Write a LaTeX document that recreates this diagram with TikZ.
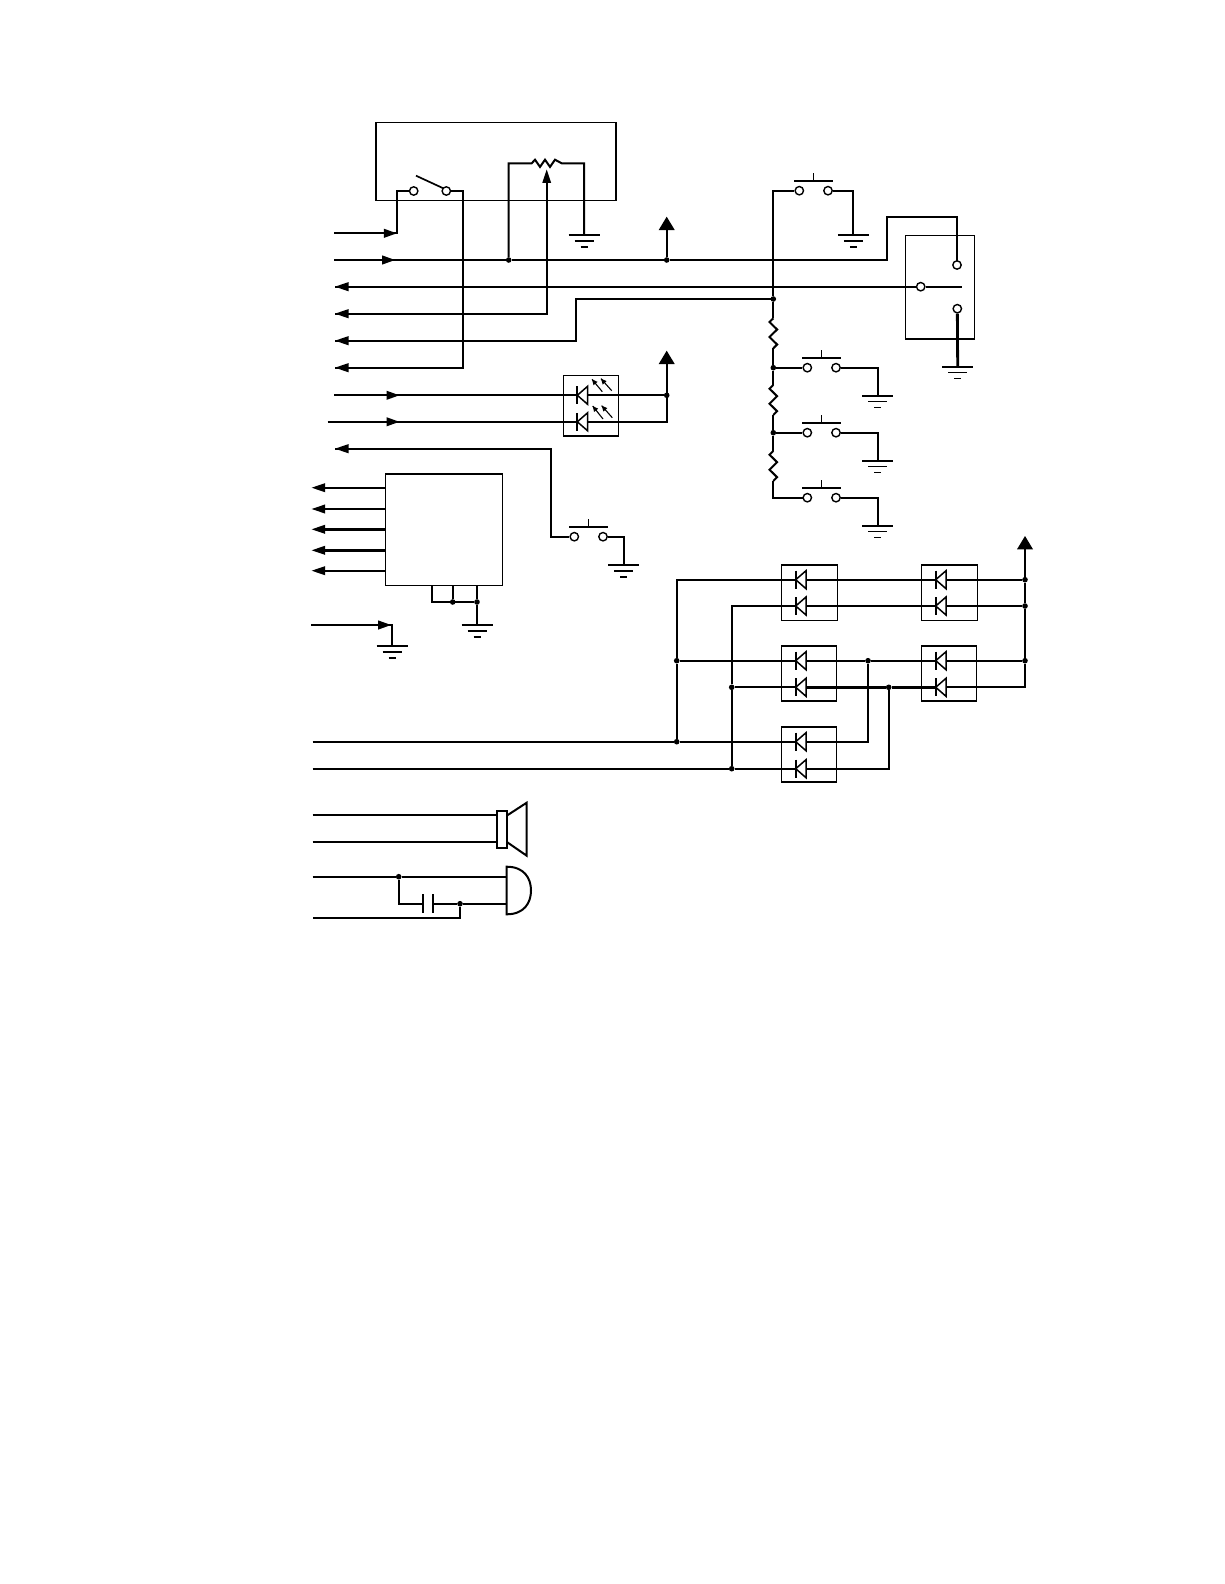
\documentclass[tikz,border=0pt]{standalone}
\usetikzlibrary{calc}
\tikzset{
  wire/.style={line width=2pt,black,line join=miter},
  thickwire/.style={line width=2.8pt,black},
  box/.style={line width=1.5pt,black},
  term/.style={circle,draw=black,fill=white,line width=1.4pt,minimum size=8.4pt,inner sep=0pt},
  jdot/.style={circle,fill=black,minimum size=5.6pt,inner sep=0pt},
  bar/.style={line width=1.7pt,black},
  thinar/.style={line width=1.1pt,black}
}
% ground symbol
\newcommand{\gndsym}[3]{\coordinate (#1) at (#2,#3);
  \draw[bar] ($(#1)+(-15.5,0)$) -- ($(#1)+(15.5,0)$)
             ($(#1)+(-9.5,5.8)$) -- ($(#1)+(9.5,5.8)$)
             ($(#1)+(-3.5,11.8)$) -- ($(#1)+(3.5,11.8)$);}
% arrow heads: tip at point, pointing left / right / up
\newcommand{\headL}[2]{\fill[black] (#1,#2) -- ++(13.5,-4.6) -- ++(0,9.2) -- cycle;}
\newcommand{\headR}[2]{\fill[black] (#1,#2) -- ++(-12.8,-4.6) -- ++(0,9.2) -- cycle;}
\newcommand{\headU}[2]{\fill[black] (#1,#2) -- ++(-8,13.3) -- ++(16,0) -- cycle;}
% push button: name, left terminal x, y
\newcommand{\pushb}[3]{
  \node[term] (#1a) at (#2,#3) {};
  \node[term] (#1b) at (#2+28.7,#3) {};
  \draw[bar] (#2-5.3,#3-10) -- (#2+33.4,#3-10) (#2+14.3,#3-10) -- (#2+14.3,#3-17.4);}
% diode pointing left: bar at x, y
\newcommand{\diode}[2]{
  \draw[line width=1.5pt,black,fill=white] (#1,#2) -- (#1+10.3,#2-9) -- (#1+10.3,#2+9) -- cycle;
  \draw[line width=2pt,black] (#1,#2-9) -- (#1,#2+9);}
\newcommand{\ledray}[4]{\draw[thinar] (#1,#2) -- (#3,#4);
  \fill[black] (#3,#4) -- ($(#3,#4)!5.5pt!(#1,#2)!2.6pt!90:(#1,#2)$) -- ($(#3,#4)!5.5pt!(#1,#2)!2.6pt!-90:(#1,#2)$) -- cycle;}
\newcommand{\zigv}[3]{% x, ytop, ybottom
  \draw[wire,line join=miter] (#1,#2)
   -- (#1-3.8,#2+3.7) -- (#1+3.8,#2+11.2) -- (#1-3.8,#2+18.7) -- (#1+3.8,#2+26.2) -- (#1,#3);}
\begin{document}
\begin{tikzpicture}[x=1pt,y=-1pt]
\useasboundingbox (0,0) rectangle (1224,1584);
\fill[white] (0,0) rectangle (1224,1584);

% --- named points
\coordinate (inA) at (334,233.3);
\coordinate (inB) at (334,260);
\coordinate (outC) at (335,286.7);
\coordinate (outD) at (335,313.7);
\coordinate (outE) at (335,340.7);
\coordinate (outF) at (335,367.7);
\coordinate (inG) at (334,395.3);
\coordinate (inH) at (327.7,421.8);
\coordinate (outI) at (335,448.7);
\coordinate (sw) at (396.7,233.3);
\coordinate (potL) at (531.7,163.3);
\coordinate (potR) at (561.7,163.3);
\coordinate (wiper) at (546.7,180);
\node[jdot] (jpot) at (508.7,260) {};
\node[jdot] (jv1) at (666.7,260) {};
\node[jdot] (jled) at (666.7,395.3) {};
\coordinate (vtop1) at (666.7,225);
\coordinate (vtop2) at (666.7,360);
\coordinate (ledR) at (666.7,421.8);

% --- boxes
\node[draw,box,inner sep=0pt,minimum width=239.7pt,minimum height=78pt] (topbox) at (496,161.7) {};
\node[draw,box,inner sep=0pt,minimum width=55pt,minimum height=60.7pt] (ledbox) at (590.8,405.7) {};
\node[draw,box,inner sep=0pt,minimum width=116.6pt,minimum height=111.3pt] (ic) at (444,529.6) {};
\node[draw,box,inner sep=0pt,minimum width=68.6pt,minimum height=103.7pt] (selbox) at (940,287.2) {};
\node[draw,box,inner sep=0pt,minimum width=55.6pt,minimum height=55.3pt] (dA) at (809.5,592.6) {};
\node[draw,box,inner sep=0pt,minimum width=55.6pt,minimum height=55.3pt] (dB) at (949.5,592.6) {};
\node[draw,box,inner sep=0pt,minimum width=54.6pt,minimum height=55.3pt] (dC) at (809,673.4) {};
\node[draw,box,inner sep=0pt,minimum width=54.6pt,minimum height=55.3pt] (dD) at (949,673.4) {};
\node[draw,box,inner sep=0pt,minimum width=54.6pt,minimum height=55.3pt] (dE) at (809,754.4) {};

% --- top-left switch and pot
\node[term] (s1) at (413.7,191) {};
\node[term] (s2) at (446.3,191) {};
\draw[bar] (416,175.7) -- (443.3,188.3);
\draw[wire] (inA) -- (sw) -- (396.7,191) -- (s1);
\draw[wire] (s2) -- (463.3,191) -- (463.3,367.7) -- (outF);
\gndsym{g1}{584.2}{235}
\draw[wire] (jpot) -- (508.7,163.3) -- (potL) -- ++(3.3,-3.6) -- ++(5,7.2) -- ++(5,-7.2) -- ++(5,7.2) -- ++(5,-7.2) -- (potR|-potL) -- (584.2,163.3) -- (g1);
\draw[wire] (wiper) -- (546.7,313.7) -- (outD);
\fill[black] (546.7,169.5) -- ++(-4.4,13.3) -- ++(8.8,0) -- cycle;

% --- long horizontal lines
\draw[wire] (inB) -- (jpot) -- (jv1) -- (886.7,260) -- (886.7,217) -- (957,217) -- (957,265);
\draw[wire] (outC) -- (920.7,286.7);
\draw[wire] (outE) -- (576,340.7) -- (576,299) -- (773.3,299);
\draw[wire] (jv1) -- (vtop1);
\headU{666.7}{216.7}

% --- LEDs
\draw[wire] (inG) -- (jled);
\draw[wire] (inH) -- (ledR) -- (vtop2);
\headU{666.7}{350.7}
\diode{577.3}{395.3}
\diode{577.3}{421.8}
\ledray{602.3}{391.7}{592}{379.3}
\ledray{611.7}{390.7}{601}{378.7}
\ledray{603}{419}{592.7}{406}
\ledray{612.3}{417.7}{601.7}{405.7}
\headR{399.3}{395.3}
\headR{399.3}{421.8}

% --- arrow heads left column
\headR{396.7}{233.3}
\headR{395}{260}
\headL{335}{286.7}
\headL{335}{313.7}
\headL{335}{340.7}
\headL{335}{367.7}
\headL{335}{448.7}

% --- lower left button
\pushb{p0}{574.3}{536.7}
\gndsym{g2}{623.7}{565}
\draw[wire] (outI) -- (550.7,448.7) -- (550.7,536.7) -- (p0a);
\draw[wire] (p0b) -- (623.7,536.7) -- (g2);

% --- IC outputs
\foreach \yy/\nn/\ww in {487.7/a/2,509/b/2,529.3/c/2.8,550.3/d/2.8,570.7/e/2}{
  \coordinate (icout\nn) at (325,\yy);
  \draw[line width=\ww pt,black] (icout\nn) -- (385.7,\yy);
  \fill[black] (311.7,\yy) -- ++(13.5,-4.6) -- ++(0,9.2) -- cycle;
}
\node[jdot] (jic1) at (452.7,602) {};
\node[jdot] (jic2) at (477,602) {};
\gndsym{g3}{477}{625}
\draw[wire] (432,585.3) -- (432,602) -- (jic2) -- (g3);
\draw[wire] (452.7,585.3) -- (jic1);
\draw[wire] (477,585.3) -- (jic2);

% --- input to ground
\gndsym{g4}{392}{646}
\coordinate (inJ) at (311,625);
\draw[wire] (inJ) -- (392,625) -- (g4);
\headR{391}{625}

% --- selector switch
\node[term] (sel1) at (957,265) {};
\node[term] (sel2) at (920.7,286.7) {};
\node[term] (sel3) at (957.3,308.7) {};
\draw[wire] (sel2) -- (962,286.7);
\gndsym{g5}{957.7}{366.7}
\draw[thickwire] (sel3) -- (g5);

% --- ladder
\node[jdot] (jr0) at (773.3,299) {};
\node[jdot] (jr1) at (773.3,367.7) {};
\node[jdot] (jr2) at (773.3,432.7) {};
\pushb{pt}{799.3}{190.7}
\gndsym{g6}{853.3}{235}
\draw[wire] (jr0) -- (773.3,190.7) -- (pta);
\draw[wire] (ptb) -- (853.3,190.7) -- (g6);
\draw[wire] (jr0) -- (773.3,318.3);
\zigv{773.3}{318.3}{348.3}
\draw[wire] (773.3,348.3) -- (jr1) -- (773.3,385);
\zigv{773.3}{385}{415}
\draw[wire] (773.3,415) -- (jr2) -- (773.3,451);
\zigv{773.3}{451}{481}
\draw[wire] (773.3,481) -- (773.3,497.7) -- (807.3,497.7);
\pushb{pa}{807.3}{367.7}
\pushb{pb}{807.3}{432.7}
\pushb{pc}{807.3}{497.7}
\gndsym{g7}{877.7}{395.7}
\gndsym{g8}{877.7}{460.7}
\gndsym{g9}{877.7}{525.7}
\draw[wire] (jr1) -- (paa);
\draw[wire] (jr2) -- (pba);
\draw[wire] (pab) -- (877.7,367.7) -- (g7);
\draw[wire] (pbb) -- (877.7,432.7) -- (g8);
\draw[wire] (pcb) -- (877.7,497.7) -- (g9);

% --- diode matrix
\coordinate (mA) at (312.7,741.7);
\coordinate (mB) at (312.7,768.7);
\node[jdot] (j1) at (676.7,660.7) {};
\node[jdot] (j2) at (676.7,741.7) {};
\node[jdot] (j3) at (731.7,687.3) {};
\node[jdot] (j4) at (731.7,768.7) {};
\node[jdot] (j5) at (868,660.7) {};
\node[jdot] (j6) at (888.7,687.3) {};
\node[jdot] (r1) at (1025,579.7) {};
\node[jdot] (r2) at (1025,606) {};
\node[jdot] (r3) at (1025,660.7) {};
\coordinate (vtop3) at (1025,545);
\draw[wire] (mA) -- (j2) -- (806,741.7);
\draw[wire] (mB) -- (j4) -- (806,768.7);
\draw[wire] (j2) -- (j1) -- (676.7,579.7) -- (r1);
\draw[wire] (j4) -- (j3) -- (731.7,606) -- (r2);
\draw[wire] (j1) -- (j5) -- (r3);
\draw[wire] (j3) -- (806,687.3);
\draw[thickwire] (806,687.3) -- (j6) -- (935.7,687.3);
\draw[wire] (935.7,687.3) -- (1025,687.3) -- (r3) -- (r2) -- (r1) -- (vtop3);
\draw[wire] (806,741.7) -- (868,741.7) -- (j5);
\draw[wire] (806,768.7) -- (888.7,768.7) -- (j6);
\headU{1025}{536}
\foreach \xx/\yy in {795.7/579.7,795.7/606,795.7/660.7,795.7/687.3,795.7/741.7,795.7/768.7,935.7/579.7,935.7/606,935.7/660.7,935.7/687.3}{\diode{\xx}{\yy}}

% --- speaker
\coordinate (spA) at (312.7,815.3);
\coordinate (spB) at (312.7,842.3);
\node[draw,line width=2pt,fill=white,inner sep=0pt,minimum width=10.6pt,minimum height=37.3pt] (spk) at (502,829.3) {};
\draw[wire] (spA) -- (spA-|spk.west);
\draw[wire] (spB) -- (spB-|spk.west);
\draw[wire] (507.3,815.3) -- (526.7,802.7) -- (526.7,855.7) -- (507.3,842.3);

% --- microphone
\coordinate (miA) at (312.7,876.7);
\coordinate (miB) at (312.7,918.3);
\coordinate (miT) at (506.7,866.7);
\coordinate (miD) at (506.7,914.3);
\node[jdot] (jm1) at (398.7,876.7) {};
\node[jdot] (jm2) at (460,903.7) {};
\coordinate (cap1) at (422.7,903.7);
\coordinate (cap2) at (432.7,903.7);
\draw[wire] (miA) -- (jm1) -- (506.7,876.7);
\draw[wire] (jm1) -- (398.7,903.7) -- (cap1);
\draw[wire] (cap2) -- (jm2) -- (506.7,903.7);
\draw[wire] (jm2) -- (460,918.3) -- (miB);
\draw[wire] (422.7,894.3) -- (422.7,912.7) (432.7,894.3) -- (432.7,912.7);
\draw[wire] (miT) -- (miD) .. controls (524,914.3) and (531,903) .. (531,890.5) .. controls (531,878) and (524,866.7) .. (miT) -- cycle;
\end{tikzpicture}
\end{document}
